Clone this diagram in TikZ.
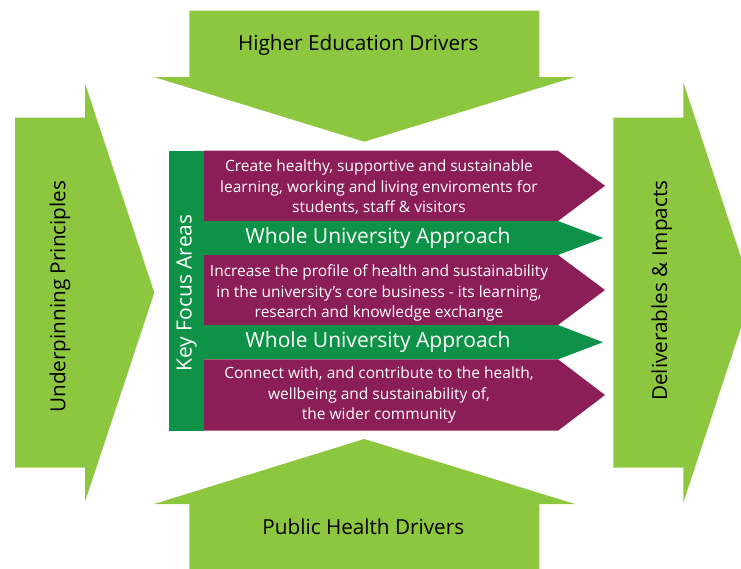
\documentclass[tikz,border=0pt]{standalone}
\usepackage{fontspec}
\setmainfont{Open Sans}
\definecolor{lgreen}{RGB}{141,198,63}
\definecolor{dgreen}{RGB}{14,146,72}
\definecolor{plum}{RGB}{139,30,86}
\begin{document}
\begin{tikzpicture}[x=1pt,y=-1pt,
  bigarrow/.style={fill=lgreen},
  band/.style={fill=plum},
  wband/.style={fill=dgreen},
  bigtext/.style={text=black,font=\fontsize{20.7}{24}\selectfont,inner sep=0pt},
  bandtext/.style={text=white,font=\fontsize{15.5}{20.5}\selectfont,align=center,inner sep=0pt},
  wtext/.style={text=white,font=\fontsize{21}{24}\selectfont,inner sep=0pt}]
\useasboundingbox (0,0) rectangle (741,568);
\clip (0,0) rectangle (741,568);
% big arrows
\fill[bigarrow] (189.3,10.7) -- (539.3,10.7) -- (539.3,77) -- (575,77) -- (364.3,141.7) -- (154,77) -- (189.3,77) -- cycle;
\fill[bigarrow] (189.3,575) -- (539.3,575) -- (539.3,504) -- (575,504) -- (364.3,439) -- (154,504) -- (189.3,504) -- cycle;
\fill[bigarrow] (15,117.7) -- (85,117.7) -- (85,83.3) -- (154.3,292.7) -- (85,501.7) -- (85,467.7) -- (15,467.7) -- cycle;
\fill[bigarrow] (613.3,117.7) -- (683.3,117.7) -- (683.3,82.3) -- (752.6,292.5) -- (683.3,502.7) -- (683.3,467.7) -- (613.3,467.7) -- cycle;
% key focus bar
\fill[wband] (169.3,150.7) rectangle (204,430.7);
% bands
\fill[band] (204,150.7) -- (558,150.7) -- (605,185.8) -- (558,221) -- (204,221) -- cycle;
\fill[wband] (204,221) -- (558,221) -- (603,238) -- (558,255) -- (204,255) -- cycle;
\fill[band] (204,255) -- (558,255) -- (605,290) -- (558,325) -- (204,325) -- cycle;
\fill[wband] (204,325) -- (558,325) -- (603,342.2) -- (558,359.3) -- (204,359.3) -- cycle;
\fill[band] (204,359.3) -- (558,359.3) -- (605,395) -- (558,430.7) -- (204,430.7) -- cycle;
% texts
\node[bigtext] (he) at (358.3,45) {Higher Education Drivers};
\node[bigtext] (ph) at (363.3,526.7) {Public Health Drivers};
\node[bigtext,rotate=90] (up) at (60,296.7) {Underpinning Principles};
\node[bigtext,rotate=90] (di) at (661.7,290.7) {Deliverables \& Impacts};
\node[wtext,rotate=90] (kf) at (186.5,293) {Key Focus Areas};
\node[bandtext] (b1) at (379,187.5) {Create healthy, supportive and sustainable\\learning, working and living enviroments for\\students, staff \& visitors};
\node[wtext] (w1) at (378,238) {Whole University Approach};
\node[bandtext] (b2) at (379,293) {Increase the profile of health and sustainability\\in the university’s core business - its learning,\\research and knowledge exchange};
\node[wtext] (w2) at (378,342) {Whole University Approach};
\node[bandtext] (b3) at (379,395.3) {Connect with, and contribute to the health,\\wellbeing and sustainability of,\\the wider community};
\end{tikzpicture}
\end{document}
